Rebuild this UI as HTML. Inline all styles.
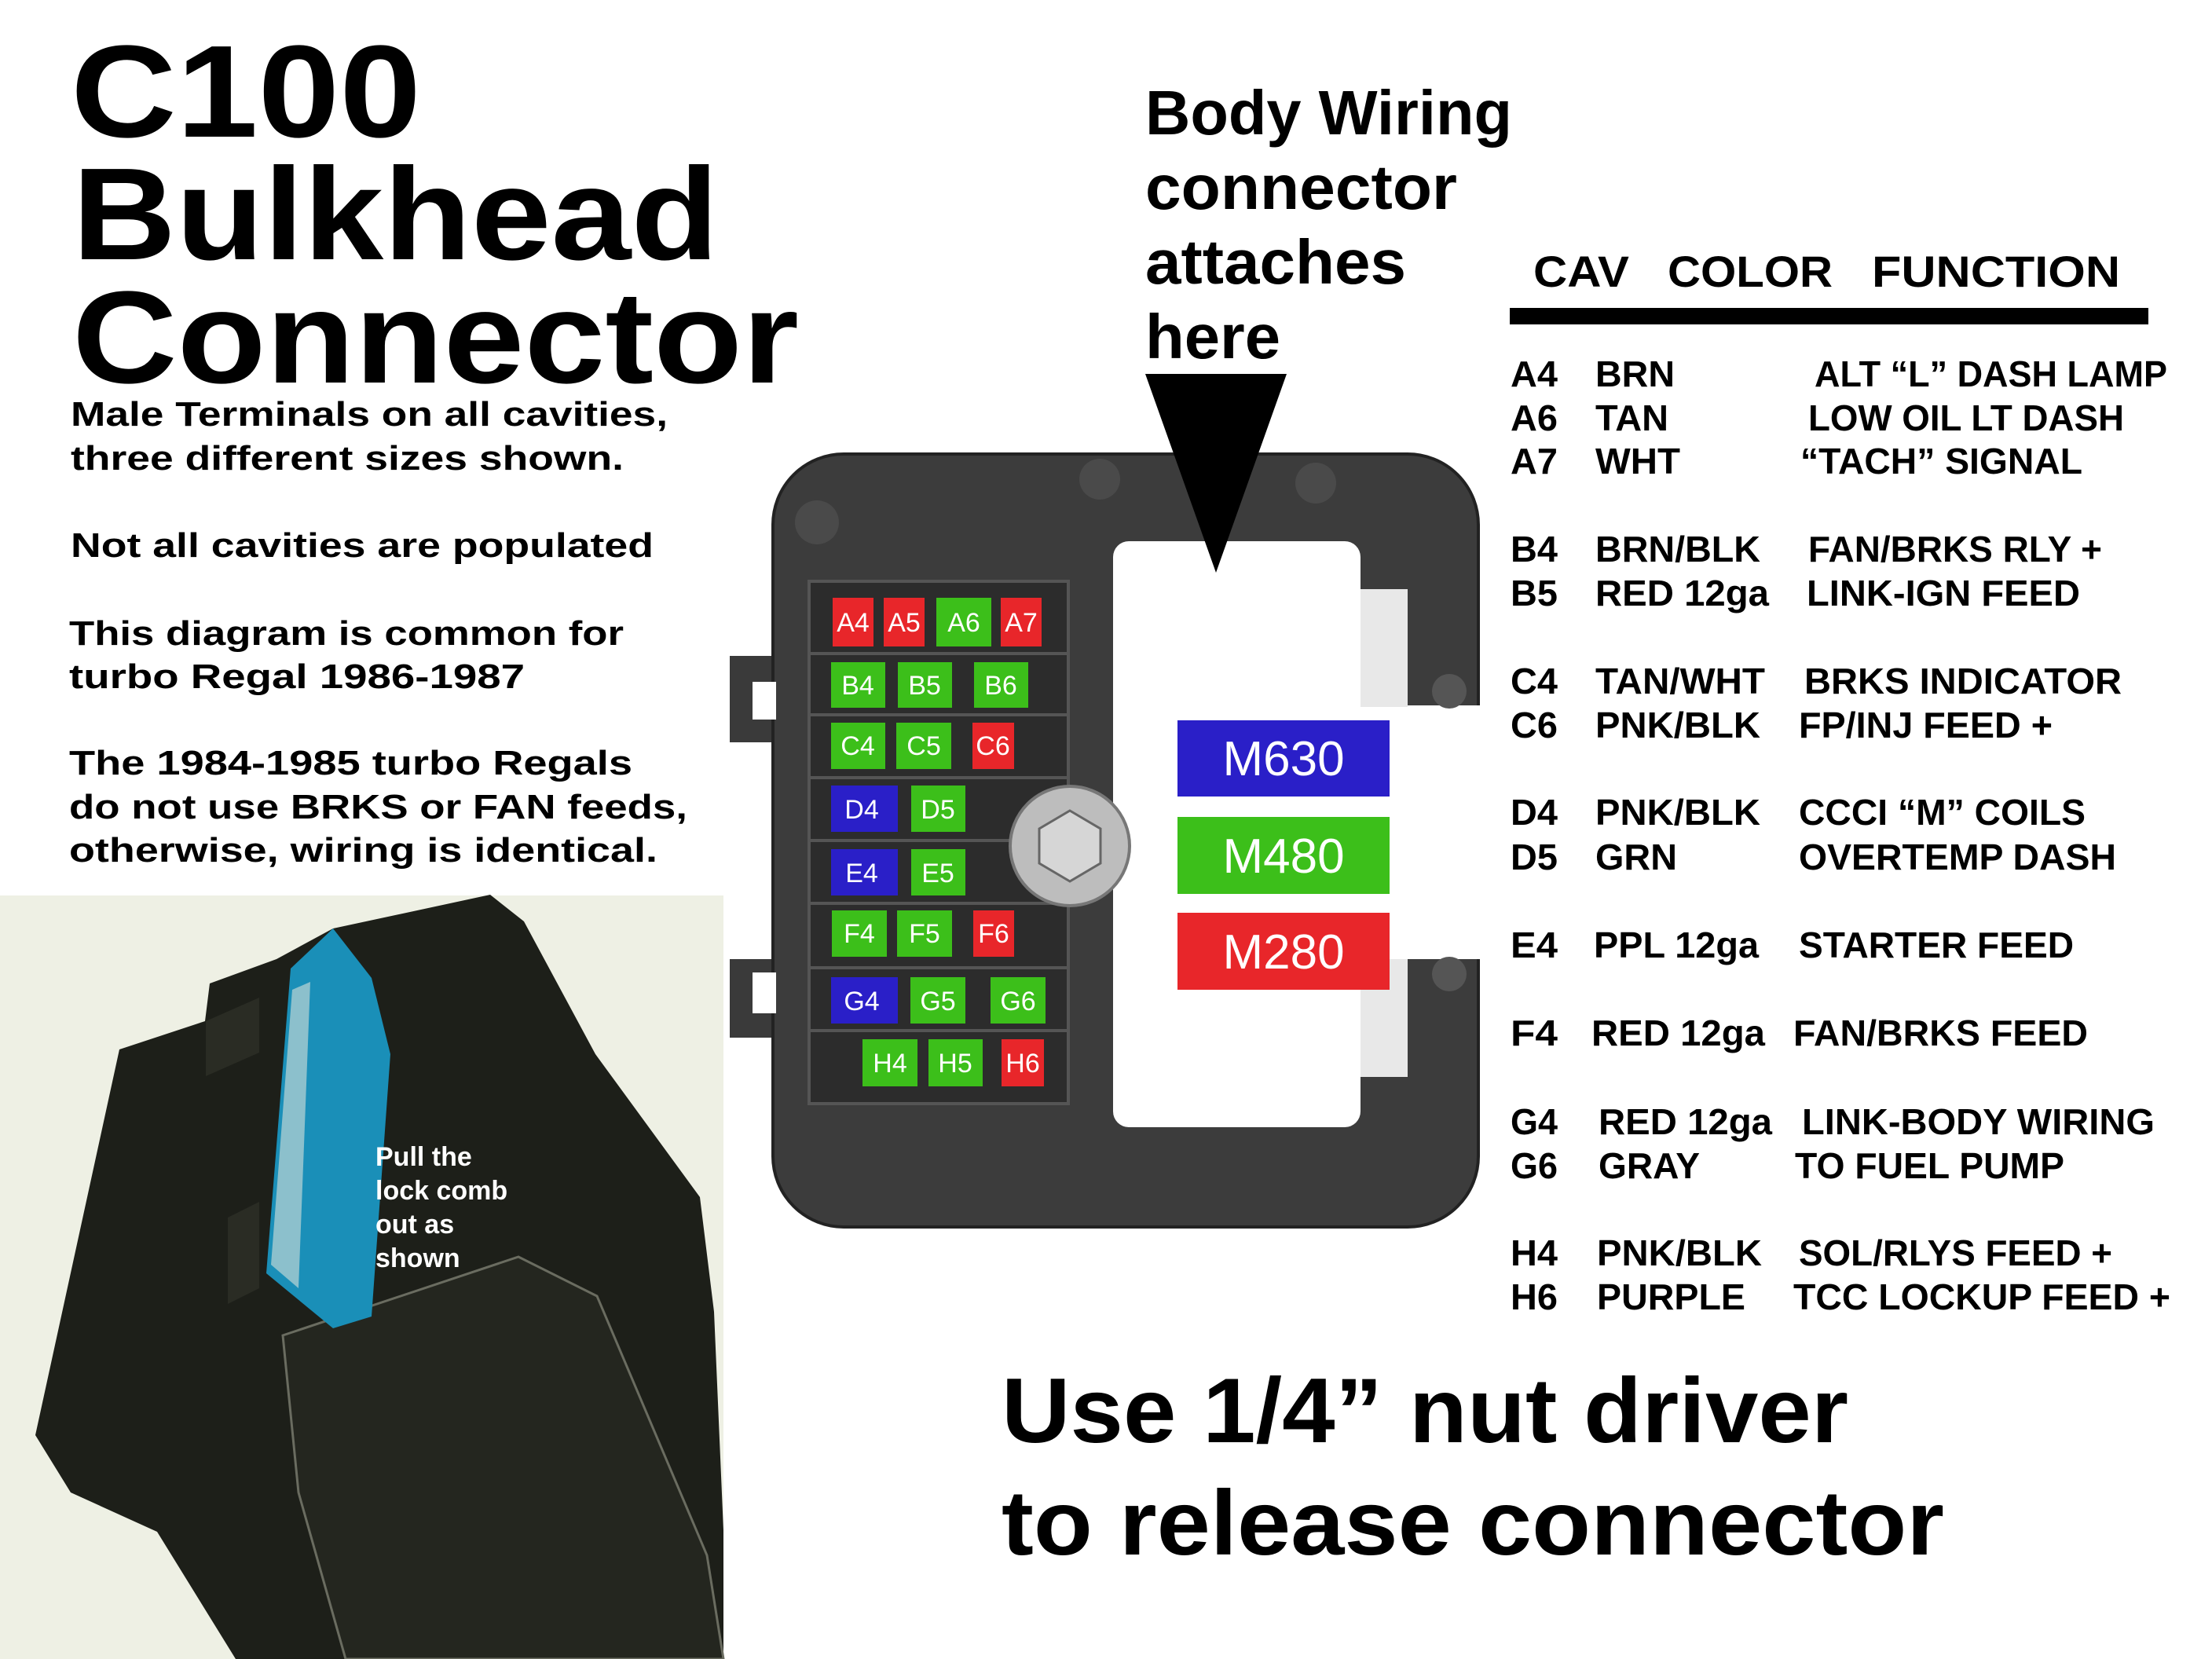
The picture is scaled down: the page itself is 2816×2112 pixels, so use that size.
<!DOCTYPE html>
<html><head><meta charset="utf-8"><style>
html,body{margin:0;padding:0;background:#fff;}
svg{display:block;}
text{font-family:"Liberation Sans",sans-serif;font-weight:bold;}
</style></head><body>
<svg width="2816" height="2112" viewBox="0 0 2816 2112" xmlns="http://www.w3.org/2000/svg">
<rect width="2816" height="2112" fill="#fff"/>

<text x="90" y="174" font-size="167" textLength="446" lengthAdjust="spacingAndGlyphs">C100</text>
<text x="92" y="330" font-size="167" textLength="823" lengthAdjust="spacingAndGlyphs">Bulkhead</text>
<text x="92" y="487" font-size="167" textLength="925" lengthAdjust="spacingAndGlyphs">Connector</text>

<g font-size="44">
<text x="90" y="542" textLength="760" lengthAdjust="spacingAndGlyphs">Male Terminals on all cavities,</text>
<text x="90" y="598" textLength="704" lengthAdjust="spacingAndGlyphs">three different sizes shown.</text>
<text x="90" y="709" textLength="742" lengthAdjust="spacingAndGlyphs">Not all cavities are populated</text>
<text x="88" y="821" textLength="706" lengthAdjust="spacingAndGlyphs">This diagram is common for</text>
<text x="88" y="876" textLength="580" lengthAdjust="spacingAndGlyphs">turbo Regal 1986-1987</text>
<text x="88" y="986" textLength="717" lengthAdjust="spacingAndGlyphs">The 1984-1985 turbo Regals</text>
<text x="88" y="1042" textLength="787" lengthAdjust="spacingAndGlyphs">do not use BRKS or FAN feeds,</text>
<text x="88" y="1097" textLength="749" lengthAdjust="spacingAndGlyphs">otherwise, wiring is identical.</text>
</g>

<g font-size="80">
<text x="1458" y="171" textLength="467" lengthAdjust="spacingAndGlyphs">Body Wiring</text>
<text x="1458" y="266" textLength="397" lengthAdjust="spacingAndGlyphs">connector</text>
<text x="1458" y="361" textLength="332" lengthAdjust="spacingAndGlyphs">attaches</text>
<text x="1458" y="456" textLength="172" lengthAdjust="spacingAndGlyphs">here</text>
</g>

<rect x="0" y="1140" width="921" height="972" fill="#eef0e4"/>
<polygon points="45,1827 152,1336 261,1300 267,1252 352,1221 424,1182 624,1139 667,1173 758,1342 891,1524 909,1670 921,1948 921,2112 300,2112 200,1950 90,1900" fill="#1d1f19"/>
<polygon points="360,1700 660,1600 760,1650 900,1980 921,2112 440,2112 380,1900" fill="#24261f" stroke="#6a6c60" stroke-width="3"/>
<polygon points="290,1550 330,1530 330,1640 290,1660" fill="#2a2c24"/>
<polygon points="262,1300 330,1270 330,1340 262,1370" fill="#2a2c24"/>
<polygon points="339,1621 370,1233 424,1182 473,1245 497,1342 473,1676 424,1691" fill="#1a8fb8"/>
<polygon points="345,1610 372,1260 395,1250 380,1640" fill="#8cc0cc"/>
<g fill="#fff" font-size="34">
<text x="478" y="1484">Pull the</text>
<text x="478" y="1527">lock comb</text>
<text x="478" y="1570">out as</text>
<text x="478" y="1613">shown</text>
</g>

<rect x="929" y="835" width="80" height="110" fill="#3a3a3a"/>
<rect x="929" y="1221" width="80" height="100" fill="#3a3a3a"/>
<rect x="984" y="578" width="898" height="984" rx="90" fill="#3c3c3c" stroke="#222" stroke-width="4"/>
<rect x="958" y="868" width="30" height="48" fill="#fff"/>
<rect x="958" y="1238" width="30" height="52" fill="#fff"/>
<rect x="1030" y="740" width="330" height="665" fill="#2c2c2c" stroke="#555" stroke-width="4"/>
<g stroke="#555" stroke-width="4">
<line x1="1030" y1="832" x2="1360" y2="832"/>
<line x1="1030" y1="910" x2="1360" y2="910"/>
<line x1="1030" y1="990" x2="1360" y2="990"/>
<line x1="1030" y1="1070" x2="1360" y2="1070"/>
<line x1="1030" y1="1150" x2="1360" y2="1150"/>
<line x1="1030" y1="1232" x2="1360" y2="1232"/>
<line x1="1030" y1="1312" x2="1360" y2="1312"/>
</g>
<rect x="1417" y="689" width="315" height="746" rx="20" fill="#fff"/>
<rect x="1700" y="898" width="200" height="323" fill="#fff"/>
<rect x="1732" y="750" width="60" height="150" fill="#e8e8e8"/>
<rect x="1732" y="1221" width="60" height="150" fill="#e8e8e8"/>
<circle cx="1845" cy="880" r="22" fill="#555"/>
<circle cx="1845" cy="1240" r="22" fill="#555"/>
<circle cx="1040" cy="665" r="28" fill="#4a4a4a"/>
<circle cx="1400" cy="610" r="26" fill="#4a4a4a"/>
<circle cx="1675" cy="615" r="26" fill="#4a4a4a"/>
<circle cx="1362" cy="1077" r="76" fill="#bdbdbd" stroke="#777" stroke-width="4"/>
<polygon points="1362,1032 1401,1055 1401,1099 1362,1122 1323,1099 1323,1055" fill="#d6d6d6" stroke="#666" stroke-width="3"/>

<polygon points="1458,476 1638,476 1548,729" fill="#000"/>

<g font-size="34" fill="#fff" text-anchor="middle" style="font-weight:normal">
<rect x="1060" y="761" width="52" height="62" fill="#e8262a"/><text x="1086" y="804" style="font-weight:normal">A4</text>
<rect x="1125" y="761" width="52" height="62" fill="#e8262a"/><text x="1151" y="804" style="font-weight:normal">A5</text>
<rect x="1192" y="761" width="70" height="62" fill="#3cbf1a"/><text x="1227" y="804" style="font-weight:normal">A6</text>
<rect x="1274" y="761" width="52" height="62" fill="#e8262a"/><text x="1300" y="804" style="font-weight:normal">A7</text>
<rect x="1058" y="843" width="69" height="58" fill="#3cbf1a"/><text x="1092" y="884" style="font-weight:normal">B4</text>
<rect x="1143" y="843" width="69" height="58" fill="#3cbf1a"/><text x="1177" y="884" style="font-weight:normal">B5</text>
<rect x="1240" y="843" width="69" height="58" fill="#3cbf1a"/><text x="1274" y="884" style="font-weight:normal">B6</text>
<rect x="1058" y="920" width="69" height="59" fill="#3cbf1a"/><text x="1092" y="961" style="font-weight:normal">C4</text>
<rect x="1141" y="920" width="70" height="59" fill="#3cbf1a"/><text x="1176" y="961" style="font-weight:normal">C5</text>
<rect x="1238" y="920" width="53" height="59" fill="#e8262a"/><text x="1264" y="961" style="font-weight:normal">C6</text>
<rect x="1058" y="1000" width="85" height="59" fill="#2a1fc8"/><text x="1097" y="1042" style="font-weight:normal">D4</text>
<rect x="1160" y="1000" width="69" height="59" fill="#3cbf1a"/><text x="1194" y="1042" style="font-weight:normal">D5</text>
<rect x="1058" y="1081" width="85" height="59" fill="#2a1fc8"/><text x="1097" y="1123" style="font-weight:normal">E4</text>
<rect x="1160" y="1081" width="69" height="59" fill="#3cbf1a"/><text x="1194" y="1123" style="font-weight:normal">E5</text>
<rect x="1059" y="1159" width="70" height="59" fill="#3cbf1a"/><text x="1094" y="1200" style="font-weight:normal">F4</text>
<rect x="1142" y="1159" width="70" height="59" fill="#3cbf1a"/><text x="1177" y="1200" style="font-weight:normal">F5</text>
<rect x="1239" y="1159" width="52" height="59" fill="#e8262a"/><text x="1265" y="1200" style="font-weight:normal">F6</text>
<rect x="1058" y="1244" width="85" height="59" fill="#2a1fc8"/><text x="1097" y="1286" style="font-weight:normal">G4</text>
<rect x="1159" y="1244" width="70" height="59" fill="#3cbf1a"/><text x="1194" y="1286" style="font-weight:normal">G5</text>
<rect x="1261" y="1244" width="70" height="59" fill="#3cbf1a"/><text x="1296" y="1286" style="font-weight:normal">G6</text>
<rect x="1098" y="1323" width="70" height="60" fill="#3cbf1a"/><text x="1133" y="1365" style="font-weight:normal">H4</text>
<rect x="1182" y="1323" width="69" height="60" fill="#3cbf1a"/><text x="1216" y="1365" style="font-weight:normal">H5</text>
<rect x="1275" y="1323" width="54" height="60" fill="#e8262a"/><text x="1302" y="1365" style="font-weight:normal">H6</text>
</g>

<g font-size="62" fill="#fff" text-anchor="middle">
<rect x="1499" y="917" width="270" height="97" fill="#2a1fc8"/><text x="1634" y="987" style="font-weight:normal">M630</text>
<rect x="1499" y="1040" width="270" height="98" fill="#3cbf1a"/><text x="1634" y="1111" style="font-weight:normal">M480</text>
<rect x="1499" y="1162" width="270" height="98" fill="#e8262a"/><text x="1634" y="1233" style="font-weight:normal">M280</text>
</g>

<g font-size="56">
<text x="1952" y="365" textLength="122" lengthAdjust="spacingAndGlyphs">CAV</text>
<text x="2123" y="365" textLength="210" lengthAdjust="spacingAndGlyphs">COLOR</text>
<text x="2383" y="365" textLength="316" lengthAdjust="spacingAndGlyphs">FUNCTION</text>
</g>
<rect x="1922" y="392" width="813" height="21" fill="#000"/>

<g font-size="46">
<text x="1923" y="492" textLength="60" lengthAdjust="spacingAndGlyphs">A4</text><text x="2031" y="492" textLength="101" lengthAdjust="spacingAndGlyphs">BRN</text><text x="2310" y="492" textLength="449" lengthAdjust="spacingAndGlyphs">ALT “L” DASH LAMP</text>
<text x="1923" y="548" textLength="60" lengthAdjust="spacingAndGlyphs">A6</text><text x="2031" y="548" textLength="93" lengthAdjust="spacingAndGlyphs">TAN</text><text x="2302" y="548" textLength="402" lengthAdjust="spacingAndGlyphs">LOW OIL LT DASH</text>
<text x="1923" y="603" textLength="60" lengthAdjust="spacingAndGlyphs">A7</text><text x="2031" y="603" textLength="108" lengthAdjust="spacingAndGlyphs">WHT</text><text x="2292" y="603" textLength="359" lengthAdjust="spacingAndGlyphs">“TACH” SIGNAL</text>
<text x="1923" y="715" textLength="60" lengthAdjust="spacingAndGlyphs">B4</text><text x="2031" y="715" textLength="210" lengthAdjust="spacingAndGlyphs">BRN/BLK</text><text x="2302" y="715" textLength="374" lengthAdjust="spacingAndGlyphs">FAN/BRKS RLY +</text>
<text x="1923" y="771" textLength="60" lengthAdjust="spacingAndGlyphs">B5</text><text x="2031" y="771" textLength="221" lengthAdjust="spacingAndGlyphs">RED 12ga</text><text x="2300" y="771" textLength="348" lengthAdjust="spacingAndGlyphs">LINK-IGN FEED</text>
<text x="1923" y="883" textLength="60" lengthAdjust="spacingAndGlyphs">C4</text><text x="2031" y="883" textLength="216" lengthAdjust="spacingAndGlyphs">TAN/WHT</text><text x="2297" y="883" textLength="404" lengthAdjust="spacingAndGlyphs">BRKS INDICATOR</text>
<text x="1923" y="939" textLength="60" lengthAdjust="spacingAndGlyphs">C6</text><text x="2031" y="939" textLength="210" lengthAdjust="spacingAndGlyphs">PNK/BLK</text><text x="2290" y="939" textLength="323" lengthAdjust="spacingAndGlyphs">FP/INJ FEED +</text>
<text x="1923" y="1050" textLength="60" lengthAdjust="spacingAndGlyphs">D4</text><text x="2031" y="1050" textLength="210" lengthAdjust="spacingAndGlyphs">PNK/BLK</text><text x="2290" y="1050" textLength="365" lengthAdjust="spacingAndGlyphs">CCCI “M” COILS</text>
<text x="1923" y="1107" textLength="60" lengthAdjust="spacingAndGlyphs">D5</text><text x="2031" y="1107" textLength="104" lengthAdjust="spacingAndGlyphs">GRN</text><text x="2290" y="1107" textLength="404" lengthAdjust="spacingAndGlyphs">OVERTEMP DASH</text>
<text x="1923" y="1219" textLength="60" lengthAdjust="spacingAndGlyphs">E4</text><text x="2029" y="1219" textLength="210" lengthAdjust="spacingAndGlyphs">PPL 12ga</text><text x="2290" y="1219" textLength="350" lengthAdjust="spacingAndGlyphs">STARTER FEED</text>
<text x="1923" y="1331" textLength="60" lengthAdjust="spacingAndGlyphs">F4</text><text x="2026" y="1331" textLength="221" lengthAdjust="spacingAndGlyphs">RED 12ga</text><text x="2283" y="1331" textLength="375" lengthAdjust="spacingAndGlyphs">FAN/BRKS FEED</text>
<text x="1923" y="1444" textLength="60" lengthAdjust="spacingAndGlyphs">G4</text><text x="2035" y="1444" textLength="221" lengthAdjust="spacingAndGlyphs">RED 12ga</text><text x="2294" y="1444" textLength="449" lengthAdjust="spacingAndGlyphs">LINK-BODY WIRING</text>
<text x="1923" y="1500" textLength="60" lengthAdjust="spacingAndGlyphs">G6</text><text x="2035" y="1500" textLength="129" lengthAdjust="spacingAndGlyphs">GRAY</text><text x="2285" y="1500" textLength="343" lengthAdjust="spacingAndGlyphs">TO FUEL PUMP</text>
<text x="1923" y="1611" textLength="60" lengthAdjust="spacingAndGlyphs">H4</text><text x="2033" y="1611" textLength="210" lengthAdjust="spacingAndGlyphs">PNK/BLK</text><text x="2290" y="1611" textLength="399" lengthAdjust="spacingAndGlyphs">SOL/RLYS FEED +</text>
<text x="1923" y="1667" textLength="60" lengthAdjust="spacingAndGlyphs">H6</text><text x="2033" y="1667" textLength="189" lengthAdjust="spacingAndGlyphs">PURPLE</text><text x="2283" y="1667" textLength="480" lengthAdjust="spacingAndGlyphs">TCC LOCKUP FEED +</text>
</g>

<g font-size="117">
<text x="1275" y="1836" textLength="1078" lengthAdjust="spacingAndGlyphs">Use 1/4” nut driver</text>
<text x="1275" y="1979" textLength="1200" lengthAdjust="spacingAndGlyphs">to release connector</text>
</g>
</svg>
</body></html>
